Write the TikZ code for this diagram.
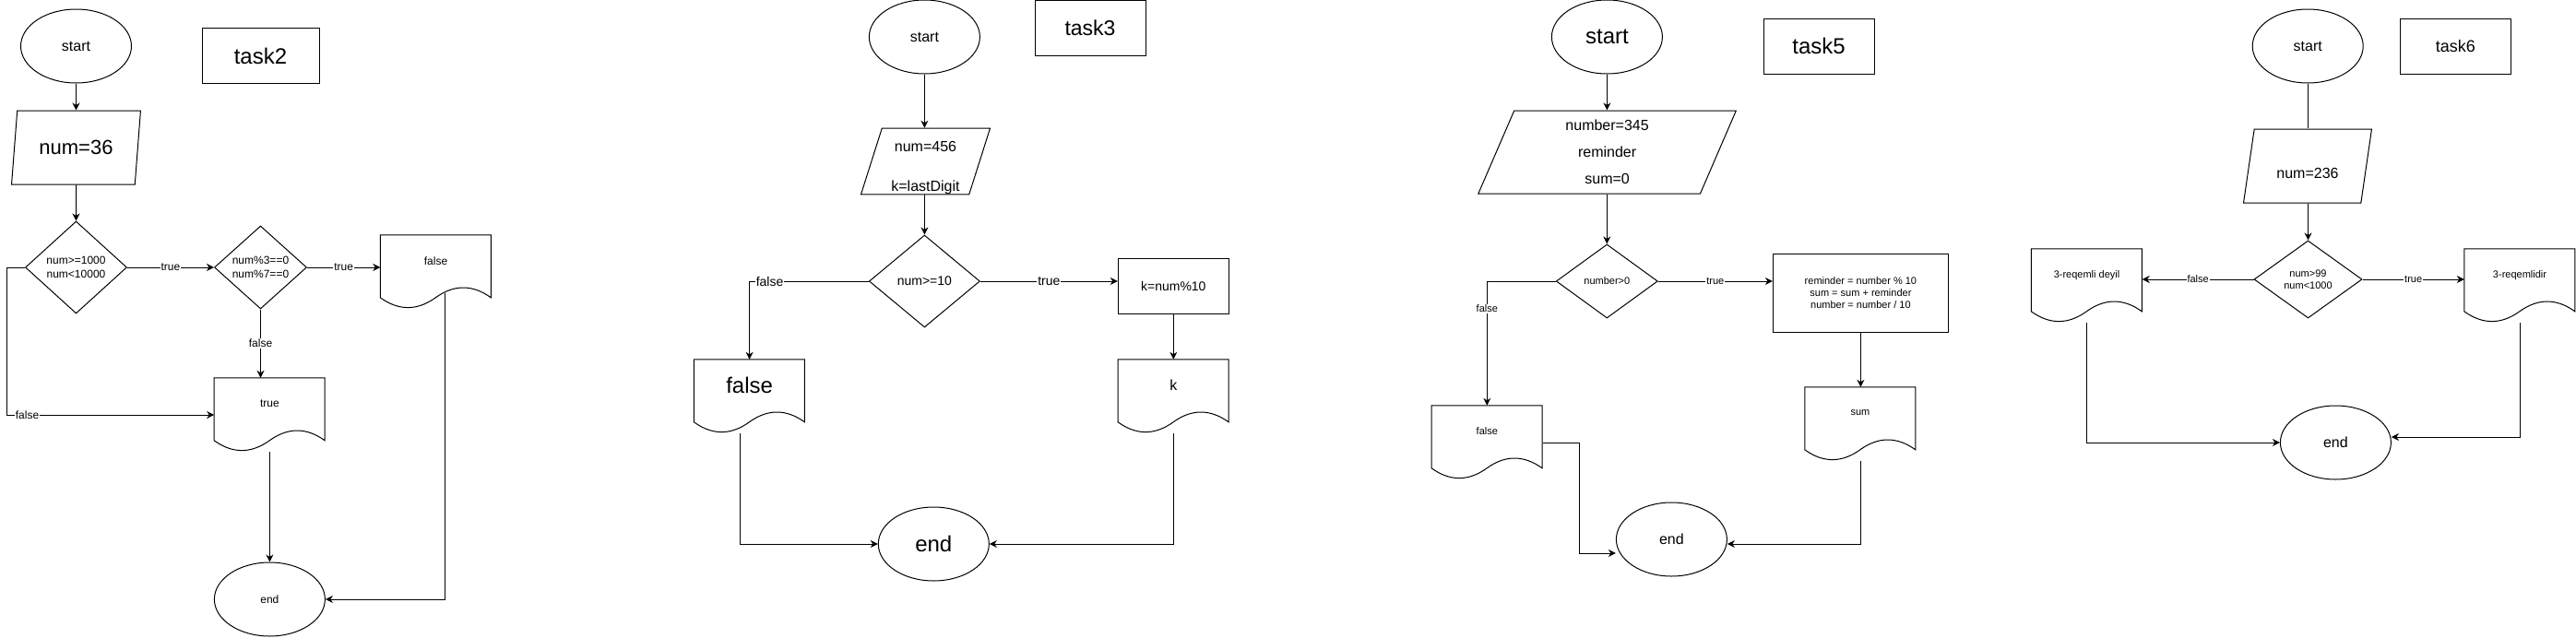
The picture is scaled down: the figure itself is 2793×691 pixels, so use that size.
\documentclass[tikz,border=0pt]{standalone}
\usepackage{fontspec}
\setmainfont{Liberation Sans}
\usepackage{tikz}
\usetikzlibrary{arrows.meta,calc,shapes.geometric}
\newcommand{\docnode}[4]{%
  \node[docb, #2] (#1) at #3 {#4};
  \draw[docl, shift={(#1.north west)}] (0,0) -- (120,0) -- (120,68)
    .. controls (100,53.6) and (80,53.6) .. (60,68)
    .. controls (40,82.4) and (20,82.4) .. (0,68) -- cycle;}
\tikzset{
  f11/.style={font=\fontsize{11}{13.2}\selectfont},
  f12/.style={font=\fontsize{12}{14.4}\selectfont},
  f14/.style={font=\fontsize{14}{16.8}\selectfont},
  f16/.style={font=\fontsize{16}{19.2}\selectfont},
  f18/.style={font=\fontsize{18}{21.6}\selectfont},
  f22/.style={font=\fontsize{22}{26.4}\selectfont},
  f23/.style={font=\fontsize{23}{27.6}\selectfont},
  f24/.style={font=\fontsize{24}{28.8}\selectfont},
  term/.style={ellipse, draw, line width=1pt, minimum width=120pt, minimum height=80pt, inner sep=0pt},
  tagb/.style={rectangle, draw, line width=1pt, minimum width=120pt, minimum height=60pt, inner sep=0pt},
  io/.style={trapezium, trapezium left angle=76, trapezium right angle=104, trapezium stretches=true,
    draw, line width=1pt, inner sep=0pt, align=center},
  cond/.style={diamond, draw, line width=1pt, inner sep=0pt, align=center},
  proc/.style={rectangle, draw, line width=1pt, inner sep=0pt, align=center},
  docb/.style={rectangle, minimum width=120pt, minimum height=80pt, inner sep=0pt, text depth=24pt},
  docl/.style={line width=1pt},
  flw/.style={line width=1pt, -{Stealth[length=8pt, width=8pt, inset=2.5pt]}},
  lnk/.style={line width=1pt},
  elab/.style={fill=white, inner sep=1pt},
}
\begin{document}
\begin{tikzpicture}[x=1pt,y=-1pt]
\useasboundingbox (0,0) rectangle (2793,691);
% task2
\node[term, f16] (s2) at (82.5,50) {start};
\node[tagb, f24, minimum width=127pt] (t2) at (282.5,60.5) {task2};
\node[io, f22, minimum width=141pt, minimum height=80pt] (in2) at (82.5,160) {num=36};
\node[cond, f12, minimum width=110pt, minimum height=100pt] (d2a) at (82.5,290) {num>=1000\\num<10000};
\node[cond, f12, minimum width=100pt, minimum height=90pt] (d2b) at (282.5,290) {num\%3==0\\num\%7==0};
\docnode{fd2}{f12}{(472.5,295)}{false}
\docnode{td2}{f12}{(292.4,450)}{true}
\node[term, f12] (e2) at (292.4,650) {end};
\draw[flw] (s2) -- (in2);
\draw[flw] (in2) -- (d2a);
\draw[flw] (d2a) -- node[elab, f12] {true} (d2b);
\draw[flw] (d2b) -- node[elab, f12] {true} (fd2.west |- d2b);
\draw[flw] (d2b) -- node[elab, f12] {false} (d2b |- td2.north);
\draw[flw] (d2a.west) -- ++(-20,0) |- node[elab, f12, pos=0.55] {false} (td2.west);
\draw[flw] (td2.south) -- (e2);
\draw[flw] ($(fd2.north west)+(70,63)$) |- (e2.east);
% task3
\node[term, f16] (s3) at (1002.4,40) {start};
\node[tagb, f23] (t3) at (1182,30) {task3};
\node[io, f16, minimum width=140pt, minimum height=70pt] (in3) at (1003.5,175) {\rule{0pt}{25pt}num=456\\[24pt]k=lastDigit};
\node[cond, f14, minimum width=120pt, minimum height=100pt] (d3) at (1002.4,305) {num>=10};
\node[proc, f14, minimum width=120pt, minimum height=60pt] (p3) at (1272.3,310) {k=num\%10};
\docnode{f3}{f24}{(812.6,430)}{false}
\docnode{k3}{f16}{(1272.3,430)}{k}
\node[term, f24] (e3) at (1012.3,590) {end};
\draw[flw] (s3) -- (s3 |- in3.north);
\draw[flw] (in3.south -| d3) -- (d3);
\draw[flw] (d3) -- node[elab, f14] {true} (d3 -| p3.west);
\draw[flw] (d3) -| node[elab, f14, pos=0.415] {false} (f3.north);
\draw[flw] (p3) -- (k3);
\draw[flw] ([xshift=-10pt]f3.south) |- (e3.west);
\draw[flw] (k3.south) |- (e3.east);
% task5
\node[term, f24] (s5) at (1742.4,40) {start};
\node[tagb, f24] (t5) at (1972,50.3) {task5};
\node[io, f16, minimum width=280pt, minimum height=90pt] (in5) at (1742.6,165) {number=345\\[9.8pt]reminder\\[9.8pt]sum=0};
\node[cond, f11, minimum width=110pt, minimum height=80pt] (d5) at (1742.3,305) {number>0};
\node[proc, f11, minimum width=190pt, minimum height=85pt] (p5) at (2017.4,317.7) {reminder = number \% 10\\sum = sum + reminder\\number = number / 10};
\docnode{f5}{f11}{(1612.3,480)}{false}
\docnode{sm5}{f11}{(2017,460)}{sum}
\node[term, f16] (e5) at (1812.4,585) {end};
\draw[flw] (s5) -- (s5 |- in5.north);
\draw[flw] (in5.south -| d5) -- (d5);
\draw[flw] (d5) -- node[elab, f11] {true} (d5 -| p5.west);
\draw[flw] (d5) -| node[elab, f11, pos=0.61] {false} (f5.north);
\draw[flw] (p5) -- (p5 |- sm5.north);
\draw[flw] (f5.east) -- ++(40,0) |- ([yshift=-15pt]e5.west);
\draw[flw] (sm5.south) |- ([yshift=-5pt]e5.east);
% task6
\node[term, f16] (s6) at (2502.2,50) {start};
\node[tagb, f18] (t6) at (2662.4,50.3) {task6};
\node[io, f16, minimum width=140pt, minimum height=80pt] (in6) at (2502,180) {\rule{0pt}{27pt}num=236};
\node[cond, f11, minimum width=117pt, minimum height=84pt] (d6) at (2502.5,303) {num>99\\num<1000};
\docnode{y6}{f11}{(2732,310)}{3-reqemlidir}
\docnode{n6}{f11}{(2262.5,310)}{3-reqemli deyil}
\node[term, f16] (e6) at (2532.4,480) {end};
\draw[lnk] (s6) -- (s6 |- in6.north);
\draw[flw] (in6.south -| d6) -- (d6);
\draw[flw] (d6) -- node[elab, f11] {true} (d6 -| y6.west);
\draw[flw] (d6) -- node[elab, f11] {false} (d6 -| n6.east);
\draw[flw] (n6.south) |- (e6.west);
\draw[flw] (y6.south) |- ([yshift=6pt]e6.east);
\end{tikzpicture}
\end{document}
